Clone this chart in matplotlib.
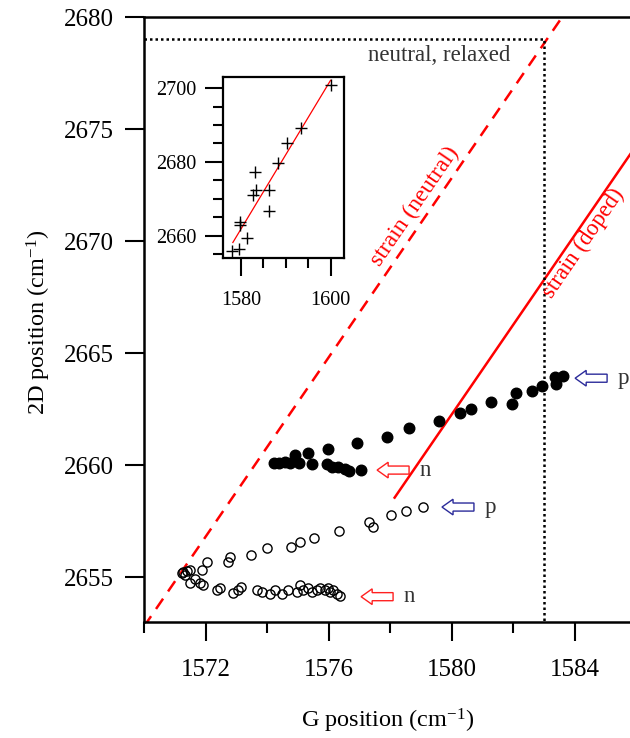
import numpy as np
import matplotlib
matplotlib.use('Agg')
import matplotlib.pyplot as plt
from matplotlib.patches import FancyArrow
from matplotlib.ticker import FixedLocator

plt.rcParams['font.family'] = ['Liberation Serif', 'DejaVu Serif']
plt.rcParams['mathtext.fontset'] = 'custom'
plt.rcParams['mathtext.rm'] = 'Liberation Serif'
plt.rcParams['mathtext.it'] = 'Liberation Serif:italic'

# doped sample (filled circles)
filled_g = [1574.23, 1574.40, 1574.59, 1574.75, 1574.91, 1575.05, 1575.34, 1575.45,
            1575.99, 1575.94, 1576.10, 1576.32, 1576.54, 1576.68, 1577.05, 1576.92,
            1577.89, 1578.63, 1579.58, 1580.29, 1580.62, 1581.27, 1581.98, 1582.09,
            1582.61, 1582.93, 1583.40, 1583.38, 1583.64]
filled_2d = [2660.10, 2660.10, 2660.15, 2660.10, 2660.45, 2660.08, 2660.55, 2660.04,
             2660.70, 2660.04, 2659.92, 2659.90, 2659.81, 2659.75, 2659.78, 2660.99,
             2661.24, 2661.64, 2661.98, 2662.33, 2662.49, 2662.83, 2662.71, 2663.24,
             2663.33, 2663.53, 2663.62, 2663.92, 2664.00]

# second sample (open circles)
open_g = [1571.23, 1571.39, 1571.50, 1571.88, 1572.04, 1572.74, 1572.81, 1573.49,
          1573.99, 1574.78, 1575.07, 1575.53, 1576.33, 1577.32, 1577.46, 1578.02,
          1578.51, 1579.07,
          1571.28, 1571.33, 1571.66, 1571.50, 1571.82, 1571.93, 1572.36, 1572.47,
          1572.90, 1573.07, 1573.14, 1573.67, 1573.83, 1574.10, 1574.26, 1574.48,
          1574.69, 1574.97, 1575.07, 1575.18, 1575.34, 1575.45, 1575.62, 1575.72,
          1575.89, 1575.99, 1576.05, 1576.16, 1576.27, 1576.37]
open_2d = [2655.17, 2655.27, 2655.31, 2655.33, 2655.68, 2655.68, 2655.91, 2655.98,
           2656.29, 2656.35, 2656.58, 2656.74, 2657.06, 2657.46, 2657.22, 2657.77,
           2657.94, 2658.14,
           2655.24, 2655.09, 2654.94, 2654.72, 2654.72, 2654.64, 2654.45, 2654.50,
           2654.30, 2654.45, 2654.54, 2654.42, 2654.34, 2654.27, 2654.42, 2654.24,
           2654.45, 2654.34, 2654.64, 2654.42, 2654.50, 2654.34, 2654.42, 2654.50,
           2654.42, 2654.50, 2654.34, 2654.42, 2654.27, 2654.15]

# strain lines
neutral_g = [1570.0, 1583.6]
neutral_2d = [2652.8, 2680.0]
doped_g = [1578.15, 1586.0]
doped_2d = [2658.55, 2674.25]
relaxed_g = 1583.0
relaxed_2d = 2679.0

# inset data
inset_g = [1577.99, 1579.46, 1579.70, 1579.85, 1581.30, 1582.60, 1583.40, 1583.20,
           1586.30, 1586.20, 1588.20, 1590.30, 1593.30, 1600.10]
inset_2d = [2655.9, 2656.4, 2663.8, 2662.9, 2659.4, 2671.1, 2672.3, 2677.3,
            2672.3, 2666.6, 2679.6, 2685.0, 2689.1, 2700.9]
inset_fit_g = [1578.2, 1600.0]
inset_fit_2d = [2658.2, 2702.1]

# arrows: tip x, y, colour, label
arrow_tip = [1577.58, 1577.06, 1579.69, 1584.02]
arrow_y = [2659.78, 2654.13, 2658.13, 2663.88]
arrow_col = ['#ff2020', '#ff2020', '#2b2b9a', '#2b2b9a']
arrow_lab = ['n', 'n', 'p', 'p']

fig = plt.figure(figsize=(6.3, 7.38), dpi=100)
ax = fig.add_axes([144/630, 1 - 622/738, 492/630, 605/738])

ax.plot(neutral_g, neutral_2d, color='red', lw=1.8, ls=(0, (5, 3.5)))
ax.plot(doped_g, doped_2d, color='red', lw=1.8)
ax.plot([1570, relaxed_g, relaxed_g], [relaxed_2d, relaxed_2d, 2653],
        color='black', lw=1.8, ls=(0, (1, 1.2)))

ax.plot(open_g, open_2d, 'o', mfc='none', mec='black', ms=6.6, mew=1.0)
ax.plot(filled_g, filled_2d, 'o', color='black', ms=7.6)

for tip, y, c, lab in zip(arrow_tip, arrow_y, arrow_col, arrow_lab):
    ax.add_patch(FancyArrow(tip + 1.04, y, -1.04, 0, width=0.36, head_width=0.7,
                            head_length=0.36, length_includes_head=True,
                            fc='white', ec=c, lw=1.0))
    ax.text(tip + 1.38, y, lab, fontsize=16.5, color='#333333',
            ha='left', va='center')

ax.text(1581.9, 2678.3, 'neutral, relaxed', fontsize=16.5, color='#333333',
        ha='right', va='center')
ax.text(1578.82, 2671.55, 'strain (neutral)', fontsize=17, color='red',
        rotation=55.5, ha='center', va='center', rotation_mode='anchor')
ax.text(1584.3, 2669.9, 'strain (doped)', fontsize=16.5, color='red',
        rotation=55.5, ha='center', va='center', rotation_mode='anchor')

ax.set_xlim(1570, 1586)
ax.set_ylim(2653, 2680)
ax.set_xticks([1572, 1576, 1580, 1584])
ax.xaxis.set_minor_locator(FixedLocator([1570, 1574, 1578, 1582, 1586]))
ax.set_yticks([2655, 2660, 2665, 2670, 2675, 2680])
ax.tick_params(axis='x', which='major', direction='out', length=14, width=1.5,
               pad=13, labelsize=18)
ax.tick_params(axis='x', which='minor', direction='out', length=8, width=1.5)
ax.tick_params(axis='y', which='major', direction='out', length=14, width=1.5,
               pad=8, labelsize=18)
for s in ['left', 'bottom', 'top']:
    ax.spines[s].set_linewidth(1.8)
ax.spines['right'].set_visible(False)

fig.text(388/630, 1 - 721/738, 'G position (cm$^{-1}$)', fontsize=17.5,
         ha='center', va='center')
fig.text(39/630, 1 - 322/738, '2D position (cm$^{-1}$)', fontsize=17.5,
         ha='center', va='center', rotation=90)

# inset
ins = fig.add_axes([223/630, 1 - 258/738, 121/630, 181/738])
ins.plot(inset_fit_g, inset_fit_2d, color='red', lw=0.9)
ins.plot(inset_g, inset_2d, '+', color='black', ms=9, mew=1.0)
ins.set_xlim(1576, 1603)
ins.set_ylim(2654, 2703)
ins.set_xticks([1580, 1600])
ins.xaxis.set_minor_locator(FixedLocator([1585, 1590, 1595]))
ins.set_yticks([2660, 2680, 2700])
ins.yaxis.set_minor_locator(FixedLocator([2655, 2665, 2670, 2675, 2685, 2690, 2695]))
ins.tick_params(which='major', direction='out', length=13, width=1.5, labelsize=14.5)
ins.tick_params(which='minor', direction='out', length=7, width=1.5)
ins.tick_params(axis='x', pad=11)
ins.tick_params(axis='y', pad=6)
for s in ins.spines.values():
    s.set_linewidth(1.6)

fig.savefig('out.png', dpi=100)
